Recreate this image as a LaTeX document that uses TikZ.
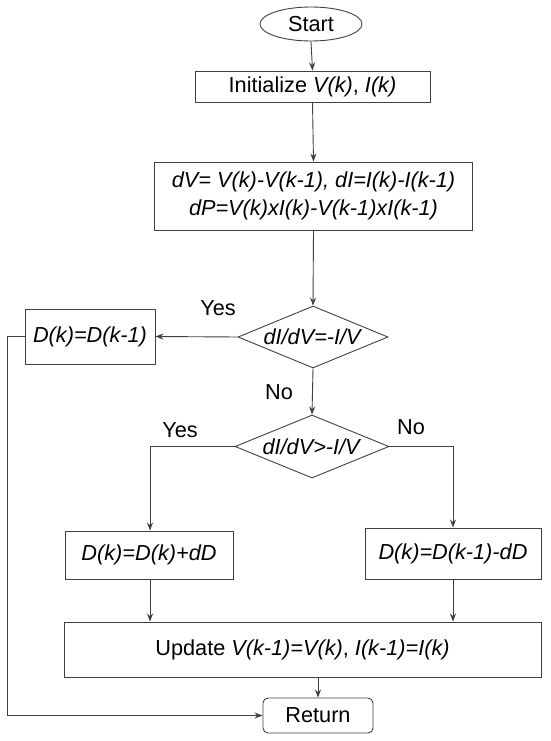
\documentclass[tikz,border=0pt]{standalone}
\usepackage{fontspec}
\setmainfont{Liberation Sans}
\usetikzlibrary{shapes.geometric,arrows.meta}
\definecolor{ln}{HTML}{404040}
\begin{document}
\begin{tikzpicture}[x=1pt,y=-1pt,
  every node/.style={font=\fontsize{21.7}{28}\selectfont, text=black},
  box/.style={draw=ln, line width=0.9pt, rectangle, inner sep=0pt},
  dia/.style={draw=ln, line width=0.9pt, diamond, aspect=2.4, inner sep=0pt},
  conn/.style={draw=ln, line width=0.9pt, -{Stealth[length=8pt,width=6pt]}},
  lab/.style={inner sep=0pt}]
\useasboundingbox (0,0) rectangle (550,741);
\node[draw=ln, line width=0.9pt, ellipse, minimum width=102pt, minimum height=34pt, inner sep=0pt] (start) at (311,24) {Start};
\node[box, minimum width=235pt, minimum height=31pt] (init) at (312.5,86.5) {Initialize \textit{V(k)}, \textit{I(k)}};
\node[box, minimum width=318pt, minimum height=68pt, align=center] (dv) at (313.5,196) {\textit{dV= V(k)-V(k-1), dI=I(k)-I(k-1)}\\\textit{dP=V(k)xI(k)-V(k-1)xI(k-1)}};
\node[dia, minimum width=150pt, minimum height=62pt] (d1) at (313,337) {\textit{dI/dV=-I/V}};
\node[box, minimum width=130pt, minimum height=55pt] (da) at (90,336.5) {\textit{D(k)=D(k-1)}};
\node[dia, minimum width=154pt, minimum height=63pt] (d2) at (312,446.5) {\textit{dI/dV>-I/V}};
\node[box, minimum width=168pt, minimum height=48pt] (dl) at (149,555) {\textit{D(k)=D(k)+dD}};
\node[box, minimum width=176pt, minimum height=51pt] (dr) at (453,553.5) {\textit{D(k)=D(k-1)-dD}};
\node[box, minimum width=477pt, minimum height=55pt] (upd) at (302.5,649.5) {Update \textit{V(k-1)=V(k)}, \textit{I(k-1)=I(k)}};
\node[box, rounded corners=5pt, minimum width=110pt, minimum height=35pt] (ret) at (318,715.5) {Return};
\node[lab] (y1) at (218,308) {Yes};
\node[lab] (n1) at (279,392) {No};
\node[lab] (y2) at (180,430) {Yes};
\node[lab] (n2) at (411,427) {No};
\coordinate (cl) at (150,446.5);
\coordinate (cr) at (453,446.5);
\coordinate (ca) at (7,336.5);
\coordinate (cb) at (7,715.5);
\draw[conn] (start.south) -- (init.north);
\draw[conn] (init.south) -- (dv.north);
\draw[conn] (dv.south) -- (d1.north);
\draw[conn] (d1.west) -- (da.east);
\draw[conn] (d1.south) -- (d2.north);
\draw[conn] (d2.west) -- (cl) -- (dl.north -| cl);
\draw[conn] (d2.east) -- (cr) -- (dr.north);
\draw[conn] (dl.south -| cl) -- (upd.north -| cl);
\draw[conn] (dr.south) -- (upd.north -| dr.south);
\draw[conn] (upd.south -| ret.north) -- (ret.north);
\draw[conn] (da.west) -- (ca) -- (cb) -- (ret.west);
\end{tikzpicture}
\end{document}
